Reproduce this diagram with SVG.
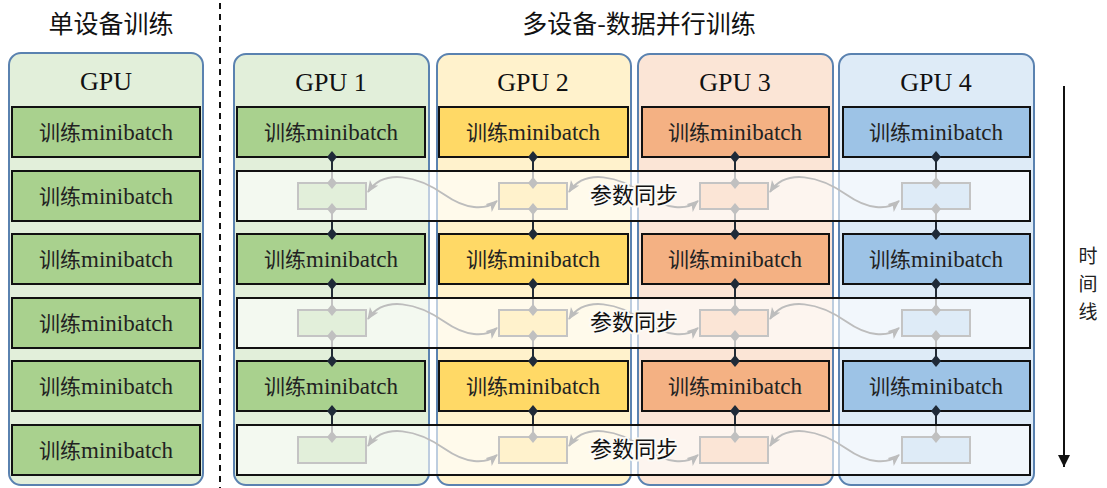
<svg xmlns="http://www.w3.org/2000/svg" xmlns:xlink="http://www.w3.org/1999/xlink" width="1107" height="488" viewBox="0 0 1107 488">
<style>
.title{font-family:"Noto Sans CJK SC",sans-serif;font-size:25px;fill:#111;text-anchor:middle}
.gpu{font-family:"Liberation Serif","Noto Sans CJK SC",serif;font-size:26px;fill:#111;text-anchor:middle}
.mb{font-family:"Liberation Serif","Noto Sans CJK SC",serif;font-size:23px;fill:#222;text-anchor:middle}
.mb .c{font-family:"Noto Sans CJK SC",sans-serif;font-size:21px}
.sync{font-family:"Noto Sans CJK SC",sans-serif;font-size:22px;fill:#111;text-anchor:middle;stroke:#fbfaf6;stroke-width:4;paint-order:stroke;stroke-linejoin:round}
.time{font-family:"Noto Sans CJK SC",sans-serif;font-size:19px;fill:#222;text-anchor:middle}
.panel{stroke:#5a82b0;stroke-width:2}
.box{stroke:#111;stroke-width:2}
.g{fill:#e2efda}.gb{fill:#a9d18e}
.y{fill:#fff2cc}.yb{fill:#ffd966}
.o{fill:#fbe5d6}.ob{fill:#f4b183}
.b{fill:#deebf7}.bb{fill:#9dc3e6}
.dk{stroke:#222b35;stroke-width:2}
.dkd{fill:#1f2a38}
.gr{stroke:#c2c2c2;stroke-width:2}
.grd{fill:#c0c0c0}
.sr{stroke:#c4c4c4;stroke-width:2}
.curve{fill:none;stroke:#bdbdbd;stroke-width:2;marker-start:url(#ga);marker-end:url(#ga)}
.overlay{fill:#fff;fill-opacity:0.6}
.syncb{fill:none;stroke:#111;stroke-width:2}
</style>
<defs>
<path id="dia" d="M0,-6 L5,0 L0,6 L-5,0 Z"/>
<marker id="ga" markerUnits="userSpaceOnUse" markerWidth="14" markerHeight="12" refX="11" refY="5" orient="auto-start-reverse">
<path d="M0,0 L12,5 L0,10 L3,5 Z" fill="#bdbdbd"/>
</marker>
<marker id="ka" markerUnits="userSpaceOnUse" markerWidth="14" markerHeight="14" refX="12" refY="6" orient="auto">
<path d="M0,0 L12,6 L0,12 Z" fill="#111"/>
</marker>
<path id="cv" d="M368 192 C384 168, 418 176, 445 195 C465 209, 485 211, 497 201"/>
</defs>

<text class="title" x="111" y="33">单设备训练</text>
<text class="title" x="639" y="33">多设备-数据并行训练</text>
<line x1="220" y1="3" x2="220" y2="488" stroke="#111" stroke-width="2" stroke-dasharray="6 5"/>

<g id="single">
<rect class="panel g" x="9" y="53" width="194" height="432" rx="12"/>
<text class="gpu" x="106" y="90">GPU</text>
<rect class="box gb" x="12" y="107" width="188" height="50"/>
<rect class="box gb" x="12" y="171" width="188" height="50"/>
<rect class="box gb" x="12" y="234" width="188" height="50"/>
<rect class="box gb" x="12" y="298" width="188" height="50"/>
<rect class="box gb" x="12" y="361" width="188" height="50"/>
<rect class="box gb" x="12" y="425" width="188" height="50"/>
<text class="mb" x="106" y="140"><tspan class="c">训练</tspan>minibatch</text>
<text class="mb" x="106" y="204"><tspan class="c">训练</tspan>minibatch</text>
<text class="mb" x="106" y="267"><tspan class="c">训练</tspan>minibatch</text>
<text class="mb" x="106" y="331"><tspan class="c">训练</tspan>minibatch</text>
<text class="mb" x="106" y="394"><tspan class="c">训练</tspan>minibatch</text>
<text class="mb" x="106" y="458"><tspan class="c">训练</tspan>minibatch</text>
</g>

<g id="gpu1">
<rect class="panel g" x="234" y="54" width="195" height="431" rx="12"/>
<text class="gpu" x="331" y="91">GPU 1</text>
<rect class="box gb" x="237" y="107" width="188" height="50"/>
<rect class="box gb" x="237" y="234" width="188" height="50"/>
<rect class="box gb" x="237" y="361" width="188" height="50"/>
<text class="mb" x="331" y="140"><tspan class="c">训练</tspan>minibatch</text>
<text class="mb" x="331" y="267"><tspan class="c">训练</tspan>minibatch</text>
<text class="mb" x="331" y="394"><tspan class="c">训练</tspan>minibatch</text>
</g>
<g id="gpu2">
<rect class="panel y" x="437" y="54" width="194" height="431" rx="12"/>
<text class="gpu" x="533" y="91">GPU 2</text>
<rect class="box yb" x="439" y="107" width="189" height="50"/>
<rect class="box yb" x="439" y="234" width="189" height="50"/>
<rect class="box yb" x="439" y="361" width="189" height="50"/>
<text class="mb" x="533" y="140"><tspan class="c">训练</tspan>minibatch</text>
<text class="mb" x="533" y="267"><tspan class="c">训练</tspan>minibatch</text>
<text class="mb" x="533" y="394"><tspan class="c">训练</tspan>minibatch</text>
</g>
<g id="gpu3">
<rect class="panel o" x="638" y="54" width="195" height="431" rx="12"/>
<text class="gpu" x="735" y="91">GPU 3</text>
<rect class="box ob" x="642" y="107" width="187" height="50"/>
<rect class="box ob" x="642" y="234" width="187" height="50"/>
<rect class="box ob" x="642" y="361" width="187" height="50"/>
<text class="mb" x="735" y="140"><tspan class="c">训练</tspan>minibatch</text>
<text class="mb" x="735" y="267"><tspan class="c">训练</tspan>minibatch</text>
<text class="mb" x="735" y="394"><tspan class="c">训练</tspan>minibatch</text>
</g>
<g id="gpu4">
<rect class="panel b" x="839" y="54" width="195" height="431" rx="12"/>
<text class="gpu" x="936" y="91">GPU 4</text>
<rect class="box bb" x="843" y="107" width="187" height="50"/>
<rect class="box bb" x="843" y="234" width="187" height="50"/>
<rect class="box bb" x="843" y="361" width="187" height="50"/>
<text class="mb" x="936" y="140"><tspan class="c">训练</tspan>minibatch</text>
<text class="mb" x="936" y="267"><tspan class="c">训练</tspan>minibatch</text>
<text class="mb" x="936" y="394"><tspan class="c">训练</tspan>minibatch</text>
</g>

<g id="sync-overlays">
<rect class="overlay" x="237" y="171" width="793" height="50"/>
<rect class="overlay" x="237" y="298" width="793" height="50"/>
<rect class="overlay" x="237" y="425" width="793" height="50"/>
</g>

<g id="connectors">
<g class="dk">
<line x1="332" y1="157" x2="332" y2="171"/><line x1="332" y1="221" x2="332" y2="234"/>
<line x1="332" y1="284" x2="332" y2="298"/><line x1="332" y1="348" x2="332" y2="361"/>
<line x1="332" y1="411" x2="332" y2="425"/>
<line x1="533" y1="157" x2="533" y2="171"/><line x1="533" y1="221" x2="533" y2="234"/>
<line x1="533" y1="284" x2="533" y2="298"/><line x1="533" y1="348" x2="533" y2="361"/>
<line x1="533" y1="411" x2="533" y2="425"/>
<line x1="735" y1="157" x2="735" y2="171"/><line x1="735" y1="221" x2="735" y2="234"/>
<line x1="735" y1="284" x2="735" y2="298"/><line x1="735" y1="348" x2="735" y2="361"/>
<line x1="735" y1="411" x2="735" y2="425"/>
<line x1="936" y1="157" x2="936" y2="171"/><line x1="936" y1="221" x2="936" y2="234"/>
<line x1="936" y1="284" x2="936" y2="298"/><line x1="936" y1="348" x2="936" y2="361"/>
<line x1="936" y1="411" x2="936" y2="425"/>
</g>
<g class="dkd">
<use xlink:href="#dia" x="332" y="157"/><use xlink:href="#dia" x="332" y="234"/><use xlink:href="#dia" x="332" y="284"/><use xlink:href="#dia" x="332" y="361"/><use xlink:href="#dia" x="332" y="411"/>
<use xlink:href="#dia" x="533" y="157"/><use xlink:href="#dia" x="533" y="234"/><use xlink:href="#dia" x="533" y="284"/><use xlink:href="#dia" x="533" y="361"/><use xlink:href="#dia" x="533" y="411"/>
<use xlink:href="#dia" x="735" y="157"/><use xlink:href="#dia" x="735" y="234"/><use xlink:href="#dia" x="735" y="284"/><use xlink:href="#dia" x="735" y="361"/><use xlink:href="#dia" x="735" y="411"/>
<use xlink:href="#dia" x="936" y="157"/><use xlink:href="#dia" x="936" y="234"/><use xlink:href="#dia" x="936" y="284"/><use xlink:href="#dia" x="936" y="361"/><use xlink:href="#dia" x="936" y="411"/>
</g>
<g class="gr">
<line x1="332" y1="171" x2="332" y2="183"/><line x1="332" y1="209" x2="332" y2="221"/>
<line x1="332" y1="298" x2="332" y2="310"/><line x1="332" y1="336" x2="332" y2="348"/>
<line x1="332" y1="425" x2="332" y2="437"/>
<line x1="533" y1="171" x2="533" y2="183"/><line x1="533" y1="209" x2="533" y2="221"/>
<line x1="533" y1="298" x2="533" y2="310"/><line x1="533" y1="336" x2="533" y2="348"/>
<line x1="533" y1="425" x2="533" y2="437"/>
<line x1="735" y1="171" x2="735" y2="183"/><line x1="735" y1="209" x2="735" y2="221"/>
<line x1="735" y1="298" x2="735" y2="310"/><line x1="735" y1="336" x2="735" y2="348"/>
<line x1="735" y1="425" x2="735" y2="437"/>
<line x1="936" y1="171" x2="936" y2="183"/><line x1="936" y1="209" x2="936" y2="221"/>
<line x1="936" y1="298" x2="936" y2="310"/><line x1="936" y1="336" x2="936" y2="348"/>
<line x1="936" y1="425" x2="936" y2="437"/>
</g>
</g>

<g id="sync-rows">
<g class="sr">
<rect class="g" x="298" y="183" width="68" height="26"/><rect class="y" x="499" y="183" width="68" height="26"/><rect class="o" x="700" y="183" width="68" height="26"/><rect class="b" x="902" y="183" width="68" height="26"/>
<rect class="g" x="298" y="310" width="68" height="26"/><rect class="y" x="499" y="310" width="68" height="26"/><rect class="o" x="700" y="310" width="68" height="26"/><rect class="b" x="902" y="310" width="68" height="26"/>
<rect class="g" x="298" y="437" width="68" height="26"/><rect class="y" x="499" y="437" width="68" height="26"/><rect class="o" x="700" y="437" width="68" height="26"/><rect class="b" x="902" y="437" width="68" height="26"/>
</g>
<g class="grd">
<use xlink:href="#dia" x="332" y="183"/><use xlink:href="#dia" x="332" y="209"/><use xlink:href="#dia" x="332" y="310"/><use xlink:href="#dia" x="332" y="336"/><use xlink:href="#dia" x="332" y="437"/>
<use xlink:href="#dia" x="533" y="183"/><use xlink:href="#dia" x="533" y="209"/><use xlink:href="#dia" x="533" y="310"/><use xlink:href="#dia" x="533" y="336"/><use xlink:href="#dia" x="533" y="437"/>
<use xlink:href="#dia" x="735" y="183"/><use xlink:href="#dia" x="735" y="209"/><use xlink:href="#dia" x="735" y="310"/><use xlink:href="#dia" x="735" y="336"/><use xlink:href="#dia" x="735" y="437"/>
<use xlink:href="#dia" x="936" y="183"/><use xlink:href="#dia" x="936" y="209"/><use xlink:href="#dia" x="936" y="310"/><use xlink:href="#dia" x="936" y="336"/><use xlink:href="#dia" x="936" y="437"/>
</g>
<g class="curve">
<use xlink:href="#cv"/><use xlink:href="#cv" transform="translate(201,0)"/><use xlink:href="#cv" transform="translate(402,0)"/>
<use xlink:href="#cv" transform="translate(0,127)"/><use xlink:href="#cv" transform="translate(201,127)"/><use xlink:href="#cv" transform="translate(402,127)"/>
<use xlink:href="#cv" transform="translate(0,254)"/><use xlink:href="#cv" transform="translate(201,254)"/><use xlink:href="#cv" transform="translate(402,254)"/>
</g>
<rect class="syncb" x="237" y="171" width="793" height="50"/>
<rect class="syncb" x="237" y="298" width="793" height="50"/>
<rect class="syncb" x="237" y="425" width="793" height="50"/>
<text class="sync" x="634" y="203">参数同步</text>
<text class="sync" x="634" y="330">参数同步</text>
<text class="sync" x="634" y="457">参数同步</text>
</g>

<g id="timeline">
<line x1="1064" y1="86" x2="1064" y2="467" stroke="#111" stroke-width="2" marker-end="url(#ka)"/>
<text class="time" x="1088" y="263">时</text>
<text class="time" x="1088" y="291">间</text>
<text class="time" x="1088" y="319">线</text>
</g>
</svg>
